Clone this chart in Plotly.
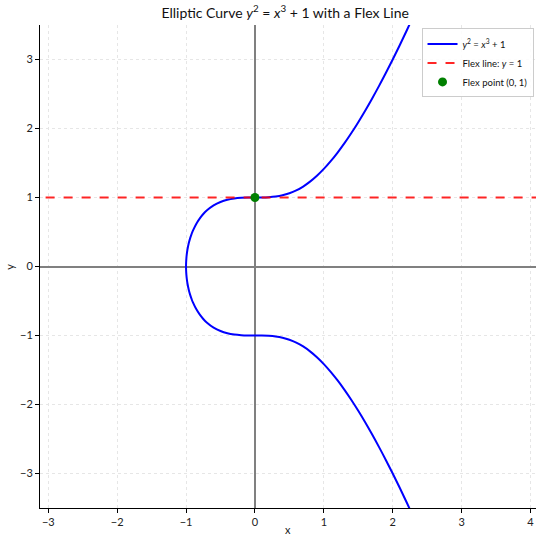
import plotly.graph_objects as go

# Upper branch of y^2 = x^3 + 1 (values read / tabulated)
upper_x = [-1.0, -0.999, -0.995, -0.99, -0.98, -0.96, -0.94, -0.92, -0.9, -0.85, -0.8, -0.75, -0.7,
           -0.6, -0.5, -0.4, -0.3, -0.2, -0.1, 0.0, 0.1, 0.2, 0.3, 0.4, 0.5, 0.6, 0.7, 0.8,
           0.9, 1.0, 1.1, 1.2, 1.3, 1.4, 1.5, 1.6, 1.7, 1.8, 1.9, 2.0, 2.1, 2.2, 2.3]
upper_y = [0.0, 0.0547, 0.1222, 0.1723, 0.2425, 0.3395, 0.4116, 0.4704, 0.5206, 0.6212, 0.6986,
           0.7603, 0.8106, 0.8854, 0.9354, 0.9675, 0.9864, 0.9960, 0.9995, 1.0, 1.0005, 1.0040,
           1.0134, 1.0315, 1.0607, 1.1027, 1.1589, 1.2296, 1.3149, 1.4142, 1.5268, 1.6517,
           1.7880, 1.9349, 2.0917, 2.2574, 2.4317, 2.6138, 2.8034, 3.0, 3.2033, 3.4130, 3.6287]

flex_x = [-3.3, 4.3]
flex_y = [1, 1]
point_x = [0]
point_y = [1]

x_ticks = [-3, -2, -1, 0, 1, 2, 3, 4]
y_ticks = [-3, -2, -1, 0, 1, 2, 3]

curve_x = upper_x[::-1] + upper_x[1:]
curve_y = [-v for v in upper_y[::-1]] + upper_y[1:]

FONT = "Lato"

fig = go.Figure()
fig.add_trace(go.Scatter(x=curve_x, y=curve_y, mode="lines", line=dict(color="blue", width=2, shape="spline"),
                         name="<i>y</i><sup>2</sup> = <i>x</i><sup>3</sup> + 1"))
fig.add_trace(go.Scatter(x=flex_x, y=flex_y, mode="lines", line=dict(color="rgba(255,0,0,0.85)", width=2, dash="dash"),
                         name="Flex line: <i>y</i> = 1"))
fig.add_trace(go.Scatter(x=point_x, y=point_y, mode="markers", marker=dict(color="green", size=9),
                         name="Flex point (0, 1)"))

axis_common = dict(
    showgrid=True, gridcolor="#e6e6e6", griddash="dot", gridwidth=0.8,
    zeroline=True, zerolinecolor="#808080", zerolinewidth=1.5,
    showline=True, linecolor="black", linewidth=1,
    ticks="outside", ticklen=4, tickcolor="black",
    tickfont=dict(family=FONT, size=11, color="#222"),
    automargin=False,
)

fig.update_layout(
    width=536, height=538,
    margin=dict(l=40, r=0, t=25, b=30),
    paper_bgcolor="white", plot_bgcolor="white",
    title=dict(text="Elliptic Curve <i>y</i><sup>2</sup> = <i>x</i><sup>3</sup> + 1 with a Flex Line",
               x=0.532, xanchor="center", y=0.985, yanchor="top",
               font=dict(family=FONT, size=14, color="#111")),
    xaxis=dict(range=[-3.12, 4.08], tickvals=x_ticks, **axis_common),
    yaxis=dict(range=[-3.5, 3.5], tickvals=y_ticks, **axis_common),
    legend=dict(x=0.995, y=0.993, xanchor="right", yanchor="top",
                bgcolor="rgba(255,255,255,0.85)", bordercolor="#cccccc", borderwidth=1,
                font=dict(family=FONT, size=9.5, color="#111"), itemwidth=30, tracegroupgap=0),
    showlegend=True,
    annotations=[
        dict(text="x", xref="paper", yref="paper", x=0.5, y=-0.044, xanchor="center", yanchor="middle",
             showarrow=False, font=dict(family=FONT, size=11, color="#222")),
        dict(text="y", xref="paper", yref="paper", x=-0.062, y=0.5, xanchor="center", yanchor="middle",
             textangle=-90, showarrow=False, font=dict(family=FONT, size=11, color="#222")),
    ],
)

fig.write_html("out.html", config={"displayModeBar": False},
               post_script="document.body.style.margin='0';document.body.style.overflow='hidden';")
